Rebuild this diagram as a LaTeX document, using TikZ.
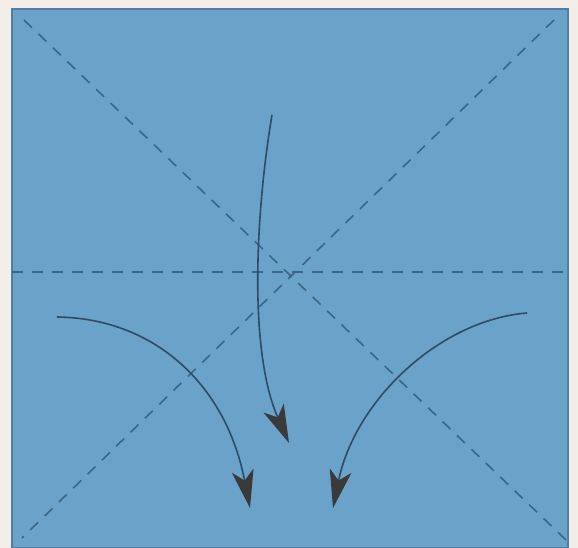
\documentclass[tikz,border=0pt]{standalone}
\usetikzlibrary{arrows.meta}
\definecolor{paper}{HTML}{F3EEE8}
\definecolor{sheet}{HTML}{6AA2C9}
\definecolor{edge}{HTML}{4F7FA3}
\definecolor{fold}{HTML}{3B6688}
\definecolor{arr}{HTML}{2E4C66}
\definecolor{tip}{HTML}{3A3A3A}
\tikzset{
  foldline/.style={fold, line width=1.6pt, dash pattern=on 11pt off 9pt},
  movearrow/.style={arr, line width=1.6pt, -{Stealth[length=38pt, width=22pt, inset=10pt, fill=tip, color=tip]}}
}
\begin{document}
\begin{tikzpicture}[x=1pt, y=-1pt]
\fill[paper] (0,0) rectangle (578,548);
\useasboundingbox (0,0) rectangle (578,548);
\fill[sheet, draw=edge, line width=1.5pt] (12,9) rectangle (568,548);
\coordinate (tl) at (24,20);
\coordinate (br) at (566,540);
\coordinate (tr) at (554,20);
\coordinate (bl) at (22,538);
\coordinate (ml) at (12,272);
\coordinate (mr) at (568,272);
\draw[foldline] (tl) -- (br);
\draw[foldline] (tr) -- (bl);
\draw[foldline] (ml) -- (mr);
\coordinate (cs) at (272,115);
\coordinate (ce) at (289,443);
\coordinate (ls) at (57,317);
\coordinate (le) at (250,508);
\coordinate (rs) at (527,313);
\coordinate (re) at (333,508);
\draw[movearrow] (cs) .. controls (256,210) and (248,350) .. (ce);
\draw[movearrow] (ls) .. controls (150,318) and (225,380) .. (le);
\draw[movearrow] (rs) .. controls (440,320) and (355,400) .. (re);
\end{tikzpicture}
\end{document}
